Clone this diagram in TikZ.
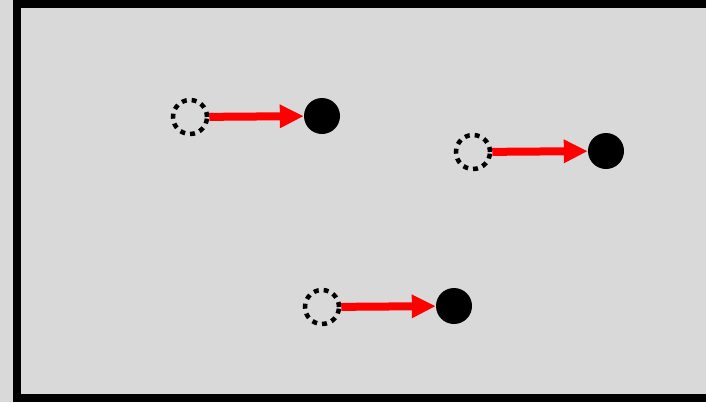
\documentclass[tikz,border=0pt]{standalone}
\usetikzlibrary{arrows.meta}
\definecolor{panel}{HTML}{D9D9D9}
\tikzset{
  ghost/.style={circle, draw=black, line width=4.5pt, dash pattern=on 5pt off 5pt,
    minimum size=34pt, inner sep=0pt},
  ball/.style={circle, fill=black, minimum size=36pt, inner sep=0pt},
  move/.style={draw=red, line width=8pt, -{Triangle[length=24pt,width=22pt]}}
}
\begin{document}
\begin{tikzpicture}[x=1pt,y=-1pt]
  % page background and framed panel
  \fill[panel] (0,0) rectangle (706,402);
  \useasboundingbox (0,0) rectangle (706,402);
  \begin{scope}
    \clip (0,0) rectangle (706,402);
    \draw[line width=8pt, fill=panel] (17,4) rectangle (710,398);
  \end{scope}
  % start positions (dashed) and end positions (filled)
  \node[ghost] (s1) at (190,117) {};
  \node[ball]  (e1) at (322,116) {};
  \node[ghost] (s2) at (473,152) {};
  \node[ball]  (e2) at (606,151) {};
  \node[ghost] (s3) at (322,307) {};
  \node[ball]  (e3) at (454,306) {};
  % displacements
  \draw[move] (s1) -- (e1);
  \draw[move] (s2) -- (e2);
  \draw[move] (s3) -- (e3);
\end{tikzpicture}
\end{document}
